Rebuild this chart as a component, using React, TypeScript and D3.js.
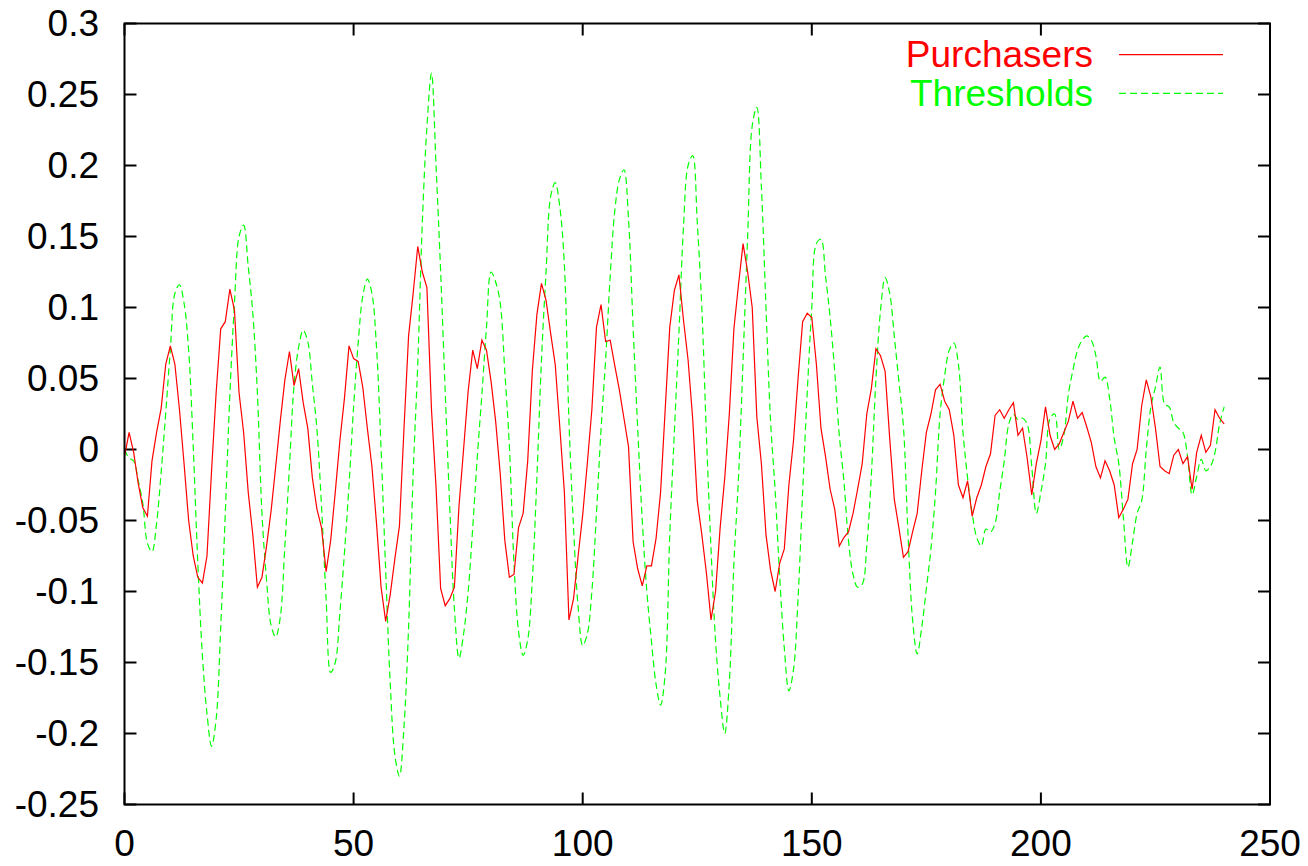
import React from 'react';
import * as d3 from 'd3';

// one sample per unit on the x axis, x = index
const thresholds = [
  0.000, -0.006, -0.008, -0.022, -0.038, -0.066, -0.072, -0.052, -0.016, 0.026,
  0.070, 0.110, 0.116, 0.103, 0.070, 0.002, -0.080, -0.145, -0.186, -0.209,
  -0.190, -0.125, -0.045, 0.039, 0.103, 0.150, 0.158, 0.129, 0.096, 0.040,
  -0.045, -0.092, -0.124, -0.132, -0.118, -0.068, -0.012, 0.045, 0.072, 0.084,
  0.076, 0.046, 0.014, -0.040, -0.105, -0.157, -0.150, -0.115, -0.073, -0.025,
  0.030, 0.075, 0.108, 0.120, 0.110, 0.072, 0.000, -0.085, -0.165, -0.215,
  -0.230, -0.195, -0.125, -0.017, 0.060, 0.160, 0.227, 0.265, 0.199, 0.125,
  0.040, -0.042, -0.112, -0.147, -0.130, -0.100, -0.055, -0.005, 0.039, 0.086,
  0.125, 0.118, 0.103, 0.055, 0.002, -0.080, -0.128, -0.145, -0.134, -0.092,
  -0.020, 0.063, 0.125, 0.178, 0.188, 0.171, 0.130, 0.020, -0.055, -0.111,
  -0.138, -0.130, -0.100, -0.045, 0.014, 0.063, 0.122, 0.168, 0.190, 0.197,
  0.162, 0.086, 0.015, -0.050, -0.100, -0.135, -0.165, -0.180, -0.158, -0.060,
  0.012, 0.082, 0.157, 0.200, 0.207, 0.160, 0.100, 0.010, -0.070, -0.135,
  -0.175, -0.200, -0.164, -0.080, -0.020, 0.063, 0.150, 0.228, 0.241, 0.185,
  0.100, 0.020, -0.029, -0.090, -0.140, -0.170, -0.155, -0.105, -0.030, 0.040,
  0.100, 0.145, 0.148, 0.122, 0.093, 0.055, 0.010, -0.022, -0.064, -0.088,
  -0.097, -0.095, -0.068, -0.018, 0.050, 0.098, 0.121, 0.110, 0.080, 0.048,
  0.016, -0.060, -0.120, -0.144, -0.125, -0.098, -0.070, -0.030, 0.025, 0.052,
  0.070, 0.075, 0.060, 0.012, -0.020, -0.045, -0.062, -0.068, -0.056, -0.058,
  -0.052, -0.030, -0.008, 0.018, 0.025, 0.021, 0.022, 0.018, -0.012, -0.045,
  -0.030, -0.010, 0.022, 0.025, 0.000, 0.010, 0.039, 0.056, 0.070, 0.077,
  0.080, 0.077, 0.066, 0.048, 0.051, 0.036, 0.008, -0.010, -0.048, -0.083,
  -0.065, -0.045, -0.036, 0.000, 0.030, 0.044, 0.058, 0.032, 0.030, 0.019,
  0.015, 0.012, -0.005, -0.032, -0.019, -0.007, -0.015, -0.012, -0.002, 0.018,
  0.030,
];

const purchasers = [
  -0.005, 0.012, -0.002, -0.024, -0.041, -0.047, -0.008, 0.012, 0.029, 0.060,
  0.073, 0.060, 0.028, -0.010, -0.050, -0.075, -0.090, -0.094, -0.075, -0.015,
  0.040, 0.085, 0.090, 0.113, 0.098, 0.040, 0.012, -0.030, -0.060, -0.097,
  -0.090, -0.068, -0.043, -0.012, 0.020, 0.049, 0.069, 0.045, 0.057, 0.033,
  0.015, -0.020, -0.042, -0.055, -0.086, -0.064, -0.030, 0.006, 0.036, 0.073,
  0.064, 0.062, 0.044, 0.015, -0.012, -0.052, -0.097, -0.121, -0.102, -0.077,
  -0.054, 0.015, 0.080, 0.110, 0.143, 0.125, 0.114, 0.028, -0.027, -0.098,
  -0.110, -0.105, -0.097, -0.040, 0.000, 0.041, 0.070, 0.057, 0.077, 0.070,
  0.048, 0.020, -0.017, -0.064, -0.090, -0.088, -0.055, -0.045, -0.008, 0.055,
  0.095, 0.117, 0.105, 0.082, 0.060, 0.016, -0.030, -0.120, -0.105, -0.075,
  -0.046, -0.010, 0.028, 0.086, 0.102, 0.076, 0.077, 0.059, 0.042, 0.022,
  0.002, -0.065, -0.084, -0.096, -0.082, -0.082, -0.063, -0.030, 0.028, 0.086,
  0.112, 0.123, 0.091, 0.063, 0.022, -0.036, -0.060, -0.087, -0.120, -0.100,
  -0.055, -0.020, 0.025, 0.085, 0.116, 0.145, 0.125, 0.100, 0.023, -0.010,
  -0.060, -0.085, -0.100, -0.080, -0.070, -0.025, 0.006, 0.050, 0.090, 0.096,
  0.093, 0.060, 0.015, -0.005, -0.028, -0.042, -0.068, -0.062, -0.058, -0.045,
  -0.028, -0.010, 0.025, 0.043, 0.071, 0.066, 0.055, 0.008, -0.035, -0.055,
  -0.076, -0.072, -0.058, -0.045, -0.015, 0.012, 0.025, 0.042, 0.046, 0.034,
  0.028, 0.010, -0.025, -0.034, -0.022, -0.047, -0.034, -0.025, -0.012, -0.003,
  0.024, 0.028, 0.022, 0.028, 0.033, 0.010, 0.015, -0.006, -0.032, -0.010,
  0.006, 0.030, 0.010, 0.000, 0.004, 0.012, 0.020, 0.034, 0.022, 0.026,
  0.016, 0.005, -0.012, -0.020, -0.008, -0.015, -0.025, -0.048, -0.042, -0.035,
  -0.010, 0.000, 0.031, 0.049, 0.037, 0.015, -0.012, -0.015, -0.017, -0.004,
  0.000, -0.010, -0.005, -0.028, -0.002, 0.010, -0.002, 0.003, 0.028, 0.022,
  0.018,
];

const xTicks = [0, 50, 100, 150, 200, 250];
const yTicks = [-0.25, -0.2, -0.15, -0.1, -0.05, 0, 0.05, 0.1, 0.15, 0.2, 0.25, 0.3];

const width = 1308;
const height = 866;
const left = 124.5;
const right = 1270;
const top = 23.5;
const bottom = 804.5;
const tickLen = 12;
const font = '"Liberation Sans", Arial, Helvetica, sans-serif';
const fontSize = 37;

const App = () => {
  const x = d3.scaleLinear().domain([0, 250]).range([left, right]);
  const y = d3.scaleLinear().domain([-0.25, 0.3]).range([bottom, top]);

  const line = d3
    .line<number>()
    .x((_, i) => x(i))
    .y((d) => y(d));

  const smooth = d3
    .line<number>()
    .x((_, i) => x(i))
    .y((d) => y(d))
    .curve(d3.curveCatmullRom.alpha(0.5));

  const fmt = (v: number) => String(Math.round(v * 100) / 100);

  return (
    <svg
      width={width}
      height={height}
      style={{ position: 'absolute', left: 0, top: 0, background: '#fff' }}
      fontFamily={font}
      fontSize={fontSize}
    >
      <rect width={width} height={height} fill="#fff" />

      {/* ticks, mirrored on all four sides */}
      <g stroke="#000" strokeWidth={2}>
        {yTicks.map((t) => (
          <g key={'y' + t}>
            <line x1={left} x2={left + tickLen} y1={y(t)} y2={y(t)} />
            <line x1={right} x2={right - tickLen} y1={y(t)} y2={y(t)} />
          </g>
        ))}
        {xTicks.map((t) => (
          <g key={'x' + t}>
            <line x1={x(t)} x2={x(t)} y1={bottom} y2={bottom - tickLen} />
            <line x1={x(t)} x2={x(t)} y1={top} y2={top + tickLen} />
          </g>
        ))}
      </g>

      {yTicks.map((t) => (
        <text key={'yl' + t} x={99} y={y(t) + 12.5} textAnchor="end" fill="#000">
          {fmt(t)}
        </text>
      ))}
      {xTicks.map((t) => (
        <text key={'xl' + t} x={x(t)} y={856} textAnchor="middle" fill="#000">
          {t}
        </text>
      ))}

      <path
        d={smooth(thresholds) ?? ''}
        fill="none"
        stroke="#00ff00"
        strokeWidth={1.2}
        strokeDasharray="7,4"
      />
      <path d={line(purchasers) ?? ''} fill="none" stroke="#ff0000" strokeWidth={1.2} />

      {/* legend */}
      <text x={1093} y={67} textAnchor="end" fill="#ff0000">Purchasers</text>
      <line x1={1119} x2={1223} y1={54.7} y2={54.7} stroke="#ff0000" strokeWidth={1.2} />
      <text x={1093} y={106} textAnchor="end" fill="#00ff00">Thresholds</text>
      <line
        x1={1119}
        x2={1223}
        y1={93.3}
        y2={93.3}
        stroke="#00ff00"
        strokeWidth={1.2}
        strokeDasharray="7,4"
      />

      <rect x={left} y={top} width={right - left} height={bottom - top} fill="none" stroke="#000" strokeWidth={2} />
    </svg>
  );
};

export default App;
